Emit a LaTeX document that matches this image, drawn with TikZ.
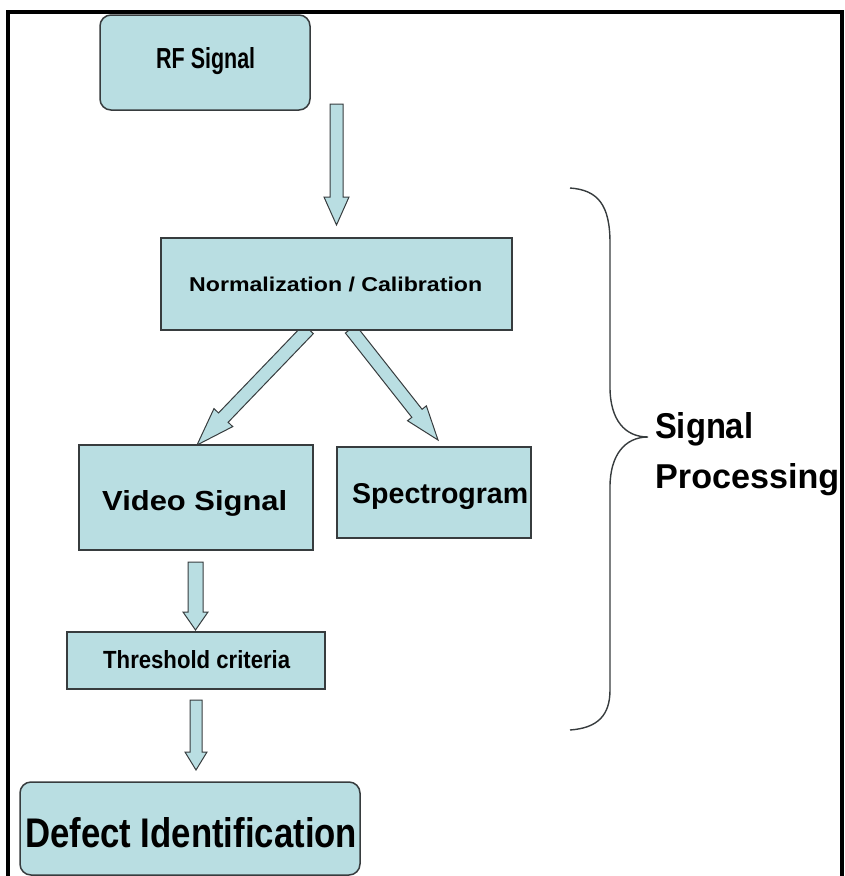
\documentclass[tikz,border=0pt]{standalone}
\usepackage{fontspec}
\setmainfont{Liberation Sans}
\usetikzlibrary{calc}
\definecolor{boxfill}{RGB}{185,222,226}
\definecolor{edgegray}{RGB}{55,60,62}
\newcommand\fitt[3]{\resizebox{#1pt}{#2pt}{\bfseries #3}}
\tikzset{
  flowbox/.style={draw=edgegray, fill=boxfill, line width=1.5pt, inner sep=0pt},
  roundbox/.style={flowbox, rounded corners=11pt},
  blockarr/.style={draw=edgegray, fill=boxfill, line width=1pt, line join=miter},
  txt/.style={anchor=base west, inner sep=0pt, text=black},
  bracestyle/.style={draw=edgegray, line width=1.4pt},
  frame/.style={draw=black, line width=4pt}
}
% tail, tip, half shaft width, half head width, head length
\newcommand\blockarrow[5]{%
  \coordinate (hb) at ($(#2)!#5pt!(#1)$);
  \draw[blockarr] ($(#1)!#3pt!90:(#2)$) -- ($(hb)!#3pt!90:(#2)$) -- ($(hb)!#4pt!90:(#2)$) -- (#2)
    -- ($(hb)!#4pt!-90:(#2)$) -- ($(hb)!#3pt!-90:(#2)$) -- ($(#1)!#3pt!-90:(#2)$) -- cycle;
}
\begin{document}
\begin{tikzpicture}[x=1pt, y=-1pt]
\useasboundingbox (0,0) rectangle (844,876);
% connector end points
\coordinate (a1s) at (336.5,104);
\coordinate (a1e) at (336.5,225);
\coordinate (a2s) at (308.5,329);
\coordinate (a2e) at (197,445);
\coordinate (a3s) at (350.5,329);
\coordinate (a3e) at (438,440);
\coordinate (a4s) at (195.5,562);
\coordinate (a4e) at (195.5,630);
\coordinate (a5s) at (196,700);
\coordinate (a5e) at (196,770);
% block arrows
\blockarrow{a1s}{a1e}{6.5}{12.5}{28}
\blockarrow{a2s}{a2e}{6.7}{13}{38}
\blockarrow{a3s}{a3e}{6.5}{12}{34}
\blockarrow{a4s}{a4e}{7.5}{12.5}{18}
\blockarrow{a5s}{a5e}{6}{11}{18}
% boxes
\node[roundbox, minimum width=210pt, minimum height=95pt] (rf) at (205,62.5) {};
\node[flowbox, minimum width=351pt, minimum height=92pt] (norm) at (336.5,284) {};
\node[flowbox, minimum width=234pt, minimum height=105pt] (video) at (196,497.5) {};
\node[flowbox, minimum width=194pt, minimum height=91pt] (spec) at (434,492.5) {};
\node[flowbox, minimum width=258pt, minimum height=57pt] (thr) at (196,660.5) {};
\node[roundbox, minimum width=340pt, minimum height=93pt] (def) at (190,828.5) {};
% texts
\node[txt] (rft) at (156,68.5) {\fitt{99}{21}{RF Signal}};
\node[txt] (normt) at (189,291) {\fitt{293}{14.5}{Normalization / Calibration}};
\node[txt] (videot) at (102,510) {\fitt{185}{20}{Video Signal}};
\node[txt] (spect) at (352,503) {\fitt{176}{20}{Spectrogram}};
\node[txt] (thrt) at (103,668) {\fitt{187}{18}{Threshold criteria}};
\node[txt] (deft) at (25,847) {\fitt{332}{30}{Defect Identification}};
% brace
\draw[bracestyle] (570,188) .. controls (598,190) and (610,205) .. (610,243)
  -- (610,387) .. controls (610,420) and (625,437) .. (648,437)
  .. controls (625,437) and (610,455) .. (610,487)
  -- (610,690) .. controls (610,715) and (598,728) .. (570,730);
\node[txt] (sigt) at (655,438) {\fitt{98}{26}{Signal}};
\node[txt] (proct) at (655,488) {\fitt{184}{25}{Processing}};
% frame
\draw[frame] (7.5,880) -- (7.5,11.5) -- (841.5,11.5) -- (841.5,880);
\end{tikzpicture}
\end{document}
